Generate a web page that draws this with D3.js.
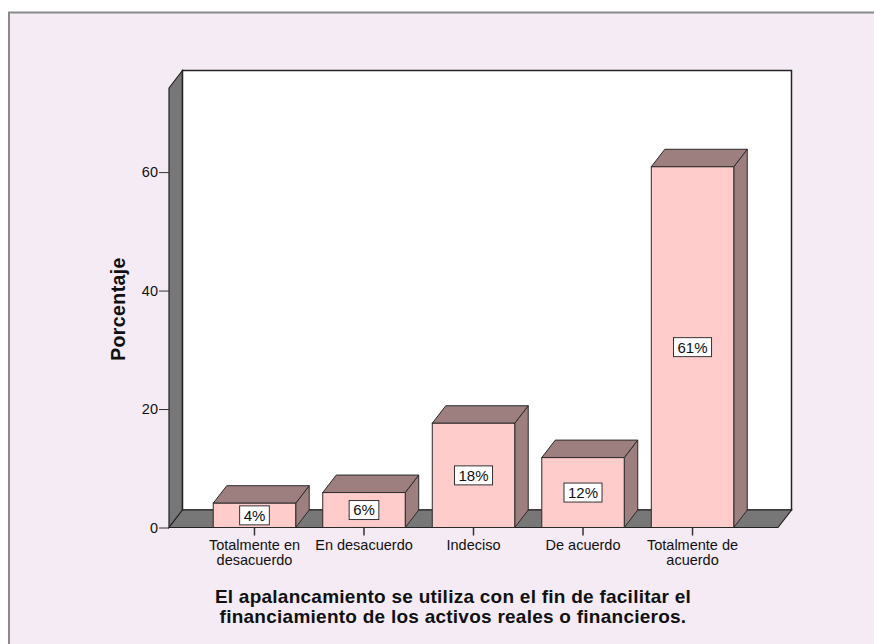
<!DOCTYPE html>
<html>
<head>
<meta charset="utf-8">
<script src="https://cdn.jsdelivr.net/npm/d3@7"></script>
<style>
  html, body { margin: 0; padding: 0; background: #ffffff; }
  svg { display: block; font-family: "Liberation Sans", Arial, sans-serif; }
  .tick text { fill: #111; }
</style>
</head>
<body>
<div id="chart"></div>
<script>
// data
const categories = ["Totalmente en desacuerdo", "En desacuerdo", "Indeciso", "De acuerdo", "Totalmente de acuerdo"];
const tickLines = [["Totalmente en", "desacuerdo"], ["En desacuerdo"], ["Indeciso"], ["De acuerdo"], ["Totalmente de", "acuerdo"]];
const percents = [4.1, 5.9, 17.6, 11.8, 60.9];
const yTicks = [0, 20, 40, 60];
const yTitle = "Porcentaje";
const xTitle = ["El apalancamiento se utiliza con el fin de facilitar el", "financiamiento de los activos reales o financieros."];

const W = 874, H = 644;
const plotL = 169, plotR = 778, plotB = 527.5, plotT = 88;
const yMax = 74.2;
const dx = 13.5, dy = -17.5; // 3d depth offset

const svg = d3.select("#chart").append("svg")
  .attr("width", W)
  .attr("height", H);

// outer panel
svg.append("rect")
  .attr("x", 9).attr("y", 12.5)
  .attr("width", 900).attr("height", 700)
  .attr("fill", "#f5ebf5")
  .attr("stroke", "#8a8a8a")
  .attr("stroke-width", 2);

const x = d3.scaleBand()
  .domain(categories)
  .range([plotL, plotR])
  .paddingInner(0.247)
  .paddingOuter(0.404);

const y = d3.scaleLinear()
  .domain([0, yMax])
  .range([plotB, plotT]);

const pts = arr => arr.map(p => p.join(",")).join(" ");
const wallStroke = "#222";

// left wall
svg.append("polygon")
  .attr("points", pts([[plotL, y(yMax)], [plotL + dx, y(yMax) + dy], [plotL + dx, plotB + dy], [plotL, plotB]]))
  .attr("fill", "#777")
  .attr("stroke", wallStroke).attr("stroke-width", 1.2);

// back wall
svg.append("rect")
  .attr("x", plotL + dx).attr("y", y(yMax) + dy)
  .attr("width", plotR - plotL).attr("height", plotB - y(yMax))
  .attr("fill", "#fff")
  .attr("stroke", wallStroke).attr("stroke-width", 1.5);

// floor
svg.append("polygon")
  .attr("points", pts([[plotL, plotB], [plotL + dx, plotB + dy], [plotR + dx, plotB + dy], [plotR, plotB]]))
  .attr("fill", "#777")
  .attr("stroke", wallStroke).attr("stroke-width", 1.2);

// bars
const bars = svg.selectAll(".bar")
  .data(categories.map((c, i) => ({ cat: c, value: percents[i] })))
  .enter().append("g")
  .attr("class", "bar");

const darkFace = "#9e7f7f";
const edge = "#2a2a2a";

bars.append("polygon") // side
  .attr("points", d => {
    const x1 = x(d.cat) + x.bandwidth(), yt = y(d.value);
    return pts([[x1, yt], [x1 + dx, yt + dy], [x1 + dx, plotB + dy], [x1, plotB]]);
  })
  .attr("fill", darkFace).attr("stroke", edge).attr("stroke-width", 1);

bars.append("polygon") // top
  .attr("points", d => {
    const x0 = x(d.cat), x1 = x0 + x.bandwidth(), yt = y(d.value);
    return pts([[x0, yt], [x0 + dx, yt + dy], [x1 + dx, yt + dy], [x1, yt]]);
  })
  .attr("fill", darkFace).attr("stroke", edge).attr("stroke-width", 1);

bars.append("rect") // front
  .attr("x", d => x(d.cat))
  .attr("y", d => y(d.value))
  .attr("width", x.bandwidth())
  .attr("height", d => plotB - y(d.value))
  .attr("fill", "#ffcccc")
  .attr("stroke", edge).attr("stroke-width", 1);

// value labels
bars.each(function(d) {
  const g = d3.select(this);
  const cx = x(d.cat) + x.bandwidth() / 2;
  const cy = (y(d.value) + plotB) / 2;
  const box = g.append("rect").attr("fill", "#fff").attr("stroke", "#333").attr("stroke-width", 1);
  const t = g.append("text")
    .attr("x", cx).attr("y", cy)
    .attr("dy", "0.36em")
    .attr("text-anchor", "middle")
    .attr("font-size", 15)
    .attr("fill", "#111")
    .text(Math.round(d.value) + "%");
  const w = t.node().getComputedTextLength() + 8;
  box.attr("x", cx - w / 2).attr("y", cy - 9.5).attr("width", w).attr("height", 19);
});

// y axis
const yAxis = svg.append("g")
  .attr("transform", `translate(${plotL},0)`)
  .call(d3.axisLeft(y).tickValues(yTicks).tickSize(10).tickPadding(1));
yAxis.select(".domain").remove();
yAxis.selectAll(".tick line").attr("stroke", "#333");
yAxis.selectAll(".tick text").attr("font-size", 14.5).attr("font-family", "Liberation Sans, Arial, sans-serif");

// x axis
const xAxis = svg.append("g")
  .attr("transform", `translate(0,${plotB})`)
  .call(d3.axisBottom(x).tickSize(8).tickPadding(4));
xAxis.select(".domain").remove();
xAxis.selectAll(".tick line").attr("stroke", "#333").attr("stroke-width", 1.5);
xAxis.selectAll(".tick text")
  .attr("font-size", 14.5)
  .attr("font-family", "Liberation Sans, Arial, sans-serif")
  .text(null)
  .each(function(d, i) {
    const t = d3.select(this);
    tickLines[i].forEach((line, j) => {
      t.append("tspan").attr("x", 0).attr("dy", j === 0 ? "0.71em" : "15").text(line);
    });
  });

// axis titles
svg.append("text")
  .attr("transform", `translate(125,309) rotate(-90)`)
  .attr("text-anchor", "middle")
  .attr("font-size", 19.5)
  .attr("font-weight", "bold")
  .attr("letter-spacing", 0.4)
  .attr("fill", "#111")
  .text(yTitle);

svg.append("text")
  .attr("x", 453)
  .attr("y", 603)
  .attr("text-anchor", "middle")
  .attr("font-size", 19)
  .attr("font-weight", "bold")
  .attr("letter-spacing", 0.25)
  .attr("fill", "#111")
  .selectAll("tspan")
  .data(xTitle)
  .enter().append("tspan")
  .attr("x", 453)
  .attr("dy", (d, i) => i === 0 ? 0 : 20)
  .text(d => d);
</script>
</body>
</html>
